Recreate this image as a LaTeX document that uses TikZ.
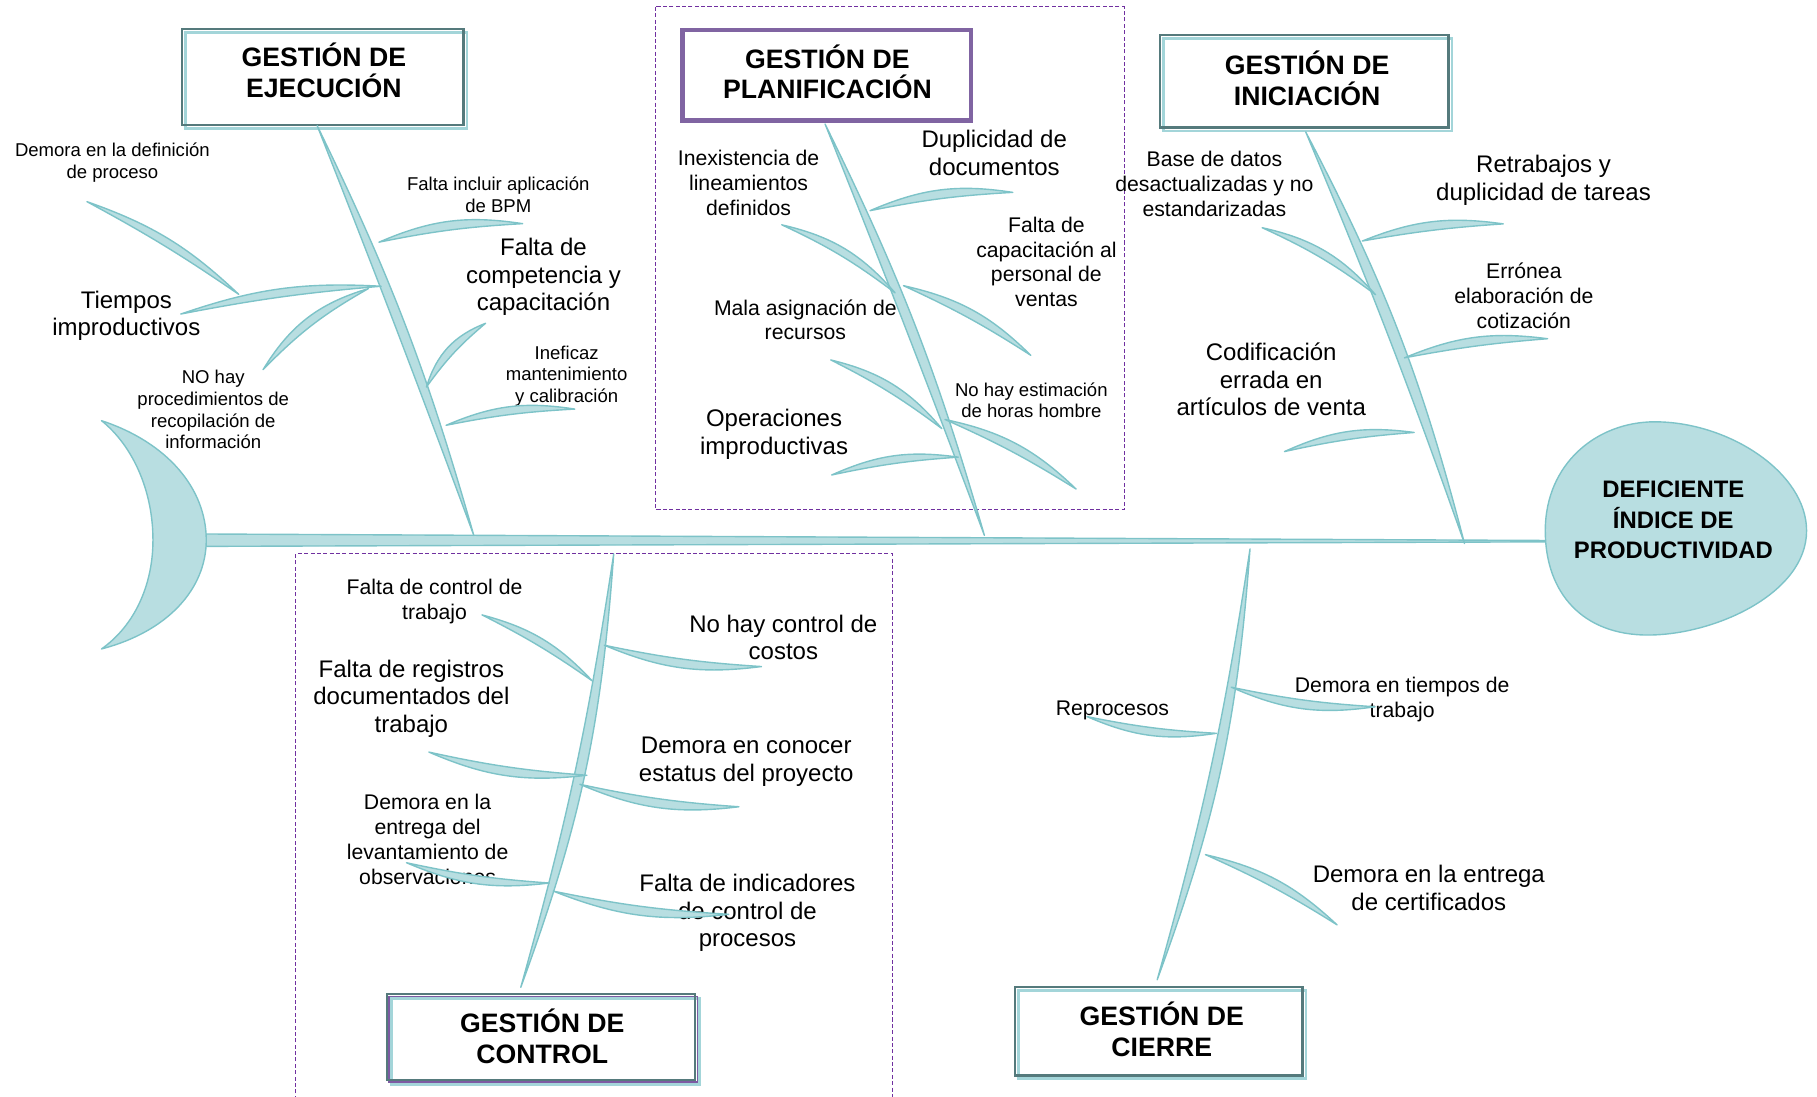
\documentclass[tikz,border=0pt]{standalone}
\usepackage{fontspec}
\setmainfont{Liberation Sans}
\usetikzlibrary{calc}
\definecolor{leaffill}{HTML}{B8DEE1}
\definecolor{leafline}{HTML}{7DC3C8}
\definecolor{shadowteal}{HTML}{A3D5D9}
\definecolor{boxdark}{HTML}{557A7C}
\definecolor{boxpurple}{HTML}{8064A2}
\definecolor{zonepurple}{HTML}{7030A0}

% a slim curved leaf between two named points
\newcommand\leafshape[5]{%
  \coordinate (#1-a) at (#2);
  \coordinate (#1-b) at (#3);
  \path[leaf] (#1-a) to[bend left=#4] (#1-b) to[bend right=#5] (#1-a) -- cycle;}

\begin{document}
\begin{tikzpicture}[x=1pt,y=-1pt,
  leaf/.style={fill=leaffill, draw=leafline, line width=1.2pt, line join=round},
  lblS/.style={align=center, inner sep=0pt, font=\fontsize{16}{18.7}\selectfont},
  lblM/.style={align=center, inner sep=0pt, font=\fontsize{18.3}{21.5}\selectfont},
  lblL/.style={align=center, inner sep=0pt, font=\fontsize{20.7}{23.8}\selectfont},
  title/.style={align=center, inner sep=0pt, font=\fontsize{23}{26.5}\selectfont\bfseries},
  frame/.style={draw=boxdark, line width=2pt, fill=white, inner sep=0pt, outer sep=0pt},
  pframe/.style={draw=boxpurple, line width=4pt, fill=white, inner sep=0pt, outer sep=0pt},
  shadowline/.style={draw=shadowteal, line width=2.5pt},
  zone/.style={draw=zonepurple, line width=0.9pt, dash pattern=on 3.5pt off 2pt},
]
\useasboundingbox (0,0) rectangle (1568,946);

% dashed grouping frames
\draw[zone] (566,6) rectangle (970,440);
\draw[zone] (255,960) -- (255,478) -- (770,478) -- (770,960);

% category boxes
\node[frame, minimum width=243pt, minimum height=83pt] (ejec) at (278.5,66.5) {};
\draw[shadowline] ([shift={(3,3)}]ejec.north west) rectangle ([shift={(3,3)}]ejec.south east);
\draw[boxdark, line width=2pt] (ejec.north west) rectangle (ejec.south east);
\node[title] (ejec-t) at (279.5,60.5) {GESTIÓN DE\\EJECUCIÓN};

\node[pframe, minimum width=249pt, minimum height=78pt] (plan) at (713.5,65) {};
\node[title] (plan-t) at (714,62) {GESTIÓN DE\\PLANIFICACIÓN};

\node[frame, minimum width=249pt, minimum height=80pt] (inic) at (1125.5,70) {};
\draw[shadowline] ([shift={(3,3)}]inic.north west) rectangle ([shift={(3,3)}]inic.south east);
\draw[boxdark, line width=2pt] (inic.north west) rectangle (inic.south east);
\node[title] (inic-t) at (1128,67.5) {GESTIÓN DE\\INICIACIÓN};

\node[frame, minimum width=266pt, minimum height=74pt] (ctrl) at (467,895) {};
\draw[shadowline] ([shift={(4,4)}]ctrl.north west) rectangle ([shift={(4,4)}]ctrl.south east);
\draw[boxpurple!80!zonepurple, line width=1.5pt] ([shift={(2,2)}]ctrl.north west) rectangle ([shift={(2,2)}]ctrl.south east);
\draw[boxdark, line width=1.6pt] (ctrl.north west) rectangle (ctrl.south east);
\node[title] (ctrl-t) at (468,894.5) {GESTIÓN DE\\CONTROL};

\node[frame, minimum width=248pt, minimum height=76pt] (cier) at (1000,890) {};
\draw[shadowline] ([shift={(3,3)}]cier.north west) rectangle ([shift={(3,3)}]cier.south east);
\draw[boxdark, line width=2pt] (cier.north west) rectangle (cier.south east);
\node[title] (cier-t) at (1002.5,888.5) {GESTIÓN DE\\CIERRE};

% cause labels
\node[lblS] (c1) at (97,140.5) {Demora en la definición\\de proceso};
\node[lblS] (c2) at (430,168) {Falta incluir aplicación\\de BPM};
\node[lblL] (c3) at (469,239) {Falta de\\competencia y\\capacitación};
\node[lblL] (c4) at (109,272.5) {Tiempos\\improductivos};
\node[lblS] (c5) at (184,353.5) {NO hay\\procedimientos de\\recopilación de\\información};
\node[lblS] (c6) at (489,324.5) {Ineficaz\\mantenimiento\\y calibración};

\node[lblM] (p1) at (646,157.5) {Inexistencia de\\lineamientos\\definidos};
\node[lblL] (p2) at (858,132) {Duplicidad de\\documentos};
\node[lblM] (p3) at (903,226) {Falta de\\capacitación al\\personal de\\ventas};
\node[lblM] (p4) at (695,276) {Mala asignación de\\recursos};
\node[lblS] (p5) at (890,345.5) {No hay estimación\\de horas hombre};
\node[lblL] (p6) at (668,375) {Operaciones\\improductivas};

\node[lblM] (i1) at (1048,159) {Base de datos\\desactualizadas y no\\estandarizadas};
\node[lblL] (i2) at (1332,155.5) {Retrabajos y\\duplicidad de tareas};
\node[lblM] (i3) at (1315,255.5) {Errónea\\elaboración de\\cotización};
\node[lblL] (i4) at (1097,327.5) {Codificación\\errada en\\artículos de venta};

\node[lblM] (k1) at (375,519) {Falta de control de\\trabajo};
\node[lblL] (k2) at (676,550) {No hay control de\\costos};
\node[lblL] (k3) at (355,603) {Falta de registros\\documentados del\\trabajo};
\node[lblL] (k4) at (644,657.5) {Demora en conocer\\estatus del proyecto};
\node[lblM] (k5) at (369,724.5) {Demora en la\\entrega del\\levantamiento de\\observaciones};
\node[lblL] (k6) at (645,788) {Falta de indicadores\\de control de\\procesos};

\node[lblM] (z1) at (960,613) {Reprocesos};
\node[lblM] (z2) at (1210,604) {Demora en tiempos de\\trabajo};
\node[lblL] (z3) at (1233,766) {Demora en la entrega\\de certificados};

% spine
\coordinate (tail) at (176,466);
\coordinate (headL) at (1334,467);
\path[leaf] ($(tail)+(0,-5.2)$) -- ($(headL)+(0,-0.6)$) -- ($(headL)+(0,0.6)$) -- ($(tail)+(0,5.5)$) -- cycle;

% tail crescent
\path[leaf] (87.6,363) .. controls (145,382) and (178,422) .. (178,466)
  .. controls (178,508) and (145,545) .. (87.6,560)
  .. controls (116,540) and (132,505) .. (132,466)
  .. controls (132,424) and (115,385) .. (87.6,363) -- cycle;

% head
\path[leaf] (1333.5,458) .. controls (1333.5,400) and (1378,364) .. (1428,364)
  .. controls (1492,364) and (1559,408) .. (1559,458)
  .. controls (1559,512) and (1480,548) .. (1422,548)
  .. controls (1366,548) and (1333.5,512) .. (1333.5,458) -- cycle;
\node[align=center, inner sep=0pt, font=\fontsize{20.6}{26.5}\selectfont\bfseries]
  (effect) at (1444,448.7) {DEFICIENTE\\ÍNDICE DE\\PRODUCTIVIDAD};

% main bones
\leafshape{ejb}{273.7,108.4}{408.9,462.1}{5}{0.6}
\leafshape{plb}{712,107}{849.5,462}{5}{0.6}
\leafshape{inb}{1126.8,113.9}{1263.8,469}{6.5}{1.6}
\leafshape{ctb}{529.6,478}{449.4,852}{8}{3.5}
\leafshape{cib}{1078.7,473.7}{998.6,845.5}{8}{3.5}

% execution causes
\leafshape{e1}{75,174}{206,254}{12}{3}
\leafshape{e2}{156,271}{329,247}{11}{3}
\leafshape{e3}{227,319}{318,249}{21}{8}
\leafshape{e4}{327,209}{451,193}{16}{4}
\leafshape{e5}{368,334}{419,279}{26}{7}
\leafshape{e6}{385,367}{496,353}{16}{4}

% planning causes
\leafshape{p1l}{750.8,181.8}{874,166}{16}{4}
\leafshape{p2l}{674.6,194}{772.4,252.7}{18}{6}
\leafshape{p3l}{779.6,246.5}{889.5,306.6}{16}{4}
\leafshape{p4l}{716.9,310.6}{812.7,369.8}{18}{5}
\leafshape{p5l}{815.5,362}{928.6,422}{16}{4}
\leafshape{p6l}{717.7,409.9}{827,394.5}{16}{4}

% initiation causes
\leafshape{i1l}{1175.6,208}{1297.2,193.2}{15}{3}
\leafshape{i2l}{1089.2,196.5}{1187,254.3}{18}{6}
\leafshape{i3l}{1212,308.8}{1335.5,292.3}{15}{3}
\leafshape{i4l}{1108.4,389.7}{1220.4,373.2}{16}{4}

% control causes
\leafshape{k1l}{415.9,530.6}{511,587.5}{16}{4}
\leafshape{k2l}{521.5,556.8}{657.1,575.2}{-15}{-4}
\leafshape{k3l}{370.1,649}{506.4,669}{-15}{-4}
\leafshape{k4l}{500.4,676.8}{637.7,696.2}{-15}{-4}
\leafshape{k5l}{350.8,744.5}{474,762}{-15}{-4}
\leafshape{k6l}{477.5,769}{628.9,789}{-14}{-4}

% closing causes
\leafshape{z1l}{938.1,618.4}{1049.8,632.8}{-16}{-4}
\leafshape{z2l}{1062.5,593}{1186.6,609.9}{-16}{-4}
\leafshape{z3l}{1040.2,737.5}{1153.8,798.1}{15}{4}
\end{tikzpicture}
\end{document}
